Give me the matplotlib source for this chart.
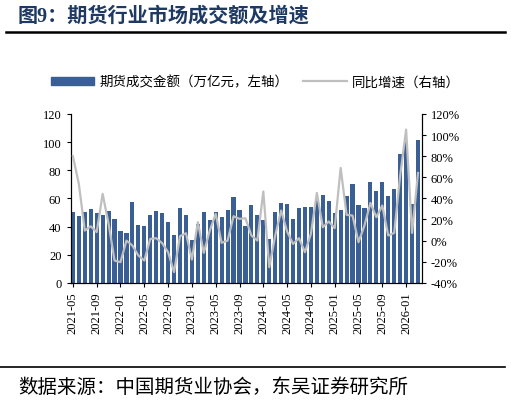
import numpy as np
import matplotlib
matplotlib.use("Agg")
import matplotlib.pyplot as plt
from matplotlib.lines import Line2D

plt.rcParams['font.family'] = ['Liberation Serif', 'Noto Sans CJK SC', 'DejaVu Sans']

# data, 2021-05 .. 2026-03 monthly
start_year, start_month = 2021, 5
n_months = 59
amount = [50, 47.3, 50, 52.5, 49.7, 48.3, 51, 45, 37, 35.5,
          57.3, 41.2, 40.5, 48.3, 51, 49.7, 43.5, 34, 53.3, 48.3,
          30.5, 41.7, 50.2, 44.5, 50.6, 46.9, 51.4, 60.8, 51.8, 40.7,
          55.4, 48.5, 44.5, 31, 50.2, 57, 55.9, 45.4, 53, 54,
          54.2, 59.2, 62.7, 57.8, 49.5, 51.8, 62, 70.5, 55.1, 53.3,
          71.7, 65.6, 72, 61.5, 67, 91.4, 100.4, 56.1, 101.3]
growth = [80, 53.7, 9.5, 13.6, 8, 44.3, 15.9, -18.9, -20.4, 0,
          -4.7, -14.1, -18.9, 1.6, 2.3, -2.4, -11, -29.9, 4.2, 7,
          -17.9, 17.4, -11.6, 9.5, 25.3, -2.1, 0, 23.1, 20.6, 21.2,
          4.8, 0, 46.5, -25.2, 4.8, 28.5, 8.6, -3.1, 2.3, -11,
          6.4, 45.2, 12.7, 18.1, 11.8, 68.9, 24.4, 23.7, -1.5, 14.3,
          35.7, 22.2, 33.2, 4.8, 7.3, 61.6, 105.2, 7.3, 64.1]

labels = []
for i in range(n_months):
    m = start_month - 1 + i
    labels.append("{}-{:02d}".format(start_year + m // 12, m % 12 + 1))

bar_color = "#3A5F94"
line_color = "#BFBFBF"
title_color = "#1F3A62"

fig = plt.figure(figsize=(5.11, 4.02), dpi=100)
ax = fig.add_axes([0.138, 0.294, 0.687, 0.420])
x = np.arange(n_months)
ax.bar(x, amount, width=0.7, color=bar_color, zorder=2)
ax.set_xlim(-0.4, 58.6)
ax.set_ylim(0, 120)
ax.set_yticks(range(0, 121, 20))
ax.set_xticks(x[::4])
ax.set_xticklabels(labels[::4], rotation=90, fontsize=9)
ax.tick_params(axis='y', labelsize=9, length=3, direction='out')
ax.tick_params(axis='x', length=3, direction='out')
ax.spines['top'].set_visible(False)

ax2 = ax.twinx()
ax2.plot(x, growth, color=line_color, linewidth=1.6, zorder=3)
ax2.set_ylim(-40, 120)
ax2.set_yticks(range(-40, 121, 20))
ax2.set_yticklabels(["{}%".format(v) for v in range(-40, 121, 20)])
ax2.tick_params(axis='y', labelsize=9, length=3, direction='out')
ax2.spines['top'].set_visible(False)

handles = [plt.Rectangle((0, 0), 1, 1, color=bar_color),
           Line2D([0], [0], color=line_color, linewidth=1.6)]
fig.legend(handles, ["期货成交金额（万亿元，左轴）", "同比增速（右轴）"],
           loc='center', bbox_to_anchor=(0.5, 0.794), ncol=2, frameon=False,
           fontsize=9.7, handlelength=3.2, handleheight=0.55,
           columnspacing=1.1, handletextpad=0.4)

fig.text(0.035, 0.958, "图9：期货行业市场成交额及增速", fontsize=14.5,
         fontweight='bold', color=title_color, va='center', ha='left')
fig.add_artist(Line2D([0.012, 0.988], [0.917, 0.917], color='black', linewidth=1.8))
fig.add_artist(Line2D([0.0, 0.988], [0.085, 0.085], color='black', linewidth=1.2))
fig.text(0.035, 0.037, "数据来源：中国期货业协会，东吴证券研究所", fontsize=14,
         va='center', ha='left')

fig.savefig("out.png", dpi=100)
